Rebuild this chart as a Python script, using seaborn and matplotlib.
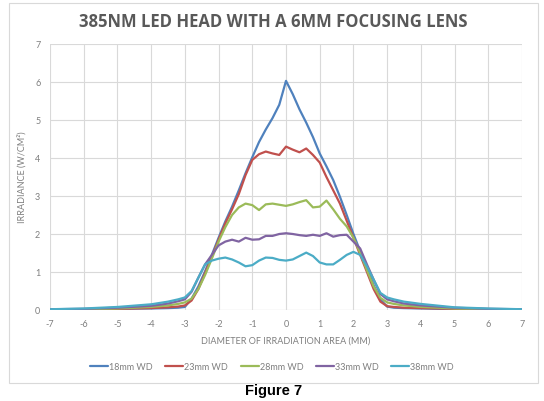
import numpy as np
import pandas as pd
import matplotlib
matplotlib.use("Agg")
import matplotlib.pyplot as plt
from matplotlib.patches import Rectangle
import seaborn as sns

# ---- data ----
positions = [-7, -6, -5, -4, -3.5, -3.2, -3.0,
             -2.8, -2.6, -2.4, -2.2, -2.0, -1.8, -1.6, -1.4, -1.2, -1.0,
             -0.8, -0.6, -0.4, -0.2, 0.0, 0.2, 0.4, 0.6, 0.8, 1.0,
             1.2, 1.4, 1.6, 1.8, 2.0, 2.2, 2.4, 2.6, 2.8,
             3.0, 3.2, 3.5, 4, 5, 6, 7]

wd18 = [0.01, 0.02, 0.03, 0.04, 0.05, 0.06, 0.08,
        0.30, 0.62, 1.02, 1.45, 1.90, 2.33, 2.72, 3.15, 3.60, 4.02,
        4.42, 4.75, 5.05, 5.40, 6.03, 5.68, 5.28, 4.93, 4.55, 4.12,
        3.78, 3.42, 2.98, 2.50, 2.00, 1.55, 1.10, 0.65, 0.28,
        0.09, 0.06, 0.05, 0.04, 0.02, 0.01, 0.01]
wd23 = [0.01, 0.02, 0.03, 0.05, 0.07, 0.09, 0.12,
        0.25, 0.55, 0.97, 1.40, 1.85, 2.28, 2.65, 3.05, 3.55, 3.95,
        4.10, 4.17, 4.12, 4.08, 4.30, 4.22, 4.15, 4.25, 4.08, 3.88,
        3.50, 3.15, 2.80, 2.35, 1.90, 1.45, 1.00, 0.55, 0.22,
        0.10, 0.08, 0.06, 0.05, 0.03, 0.02, 0.01]
wd28 = [0.01, 0.02, 0.04, 0.08, 0.12, 0.16, 0.20,
        0.30, 0.55, 0.92, 1.35, 1.80, 2.18, 2.50, 2.70, 2.80, 2.76,
        2.63, 2.78, 2.80, 2.77, 2.74, 2.78, 2.84, 2.89, 2.70, 2.72,
        2.88, 2.65, 2.40, 2.20, 1.90, 1.50, 1.05, 0.62, 0.32,
        0.20, 0.16, 0.12, 0.08, 0.04, 0.02, 0.01]
wd33 = [0.02, 0.03, 0.06, 0.11, 0.17, 0.23, 0.28,
        0.48, 0.85, 1.20, 1.45, 1.70, 1.80, 1.85, 1.80, 1.90, 1.85,
        1.86, 1.95, 1.95, 2.00, 2.02, 2.00, 1.97, 1.95, 1.98, 1.95,
        2.02, 1.93, 1.97, 1.98, 1.80, 1.62, 1.20, 0.80, 0.42,
        0.28, 0.23, 0.17, 0.12, 0.06, 0.03, 0.02]
wd38 = [0.02, 0.04, 0.08, 0.15, 0.22, 0.28, 0.33,
        0.50, 0.85, 1.20, 1.30, 1.35, 1.38, 1.33, 1.25, 1.15, 1.18,
        1.30, 1.38, 1.37, 1.32, 1.30, 1.33, 1.42, 1.51, 1.42, 1.25,
        1.20, 1.20, 1.32, 1.45, 1.53, 1.45, 1.15, 0.80, 0.45,
        0.33, 0.28, 0.22, 0.16, 0.07, 0.04, 0.02]

series_names = ["18mm WD", "23mm WD", "28mm WD", "33mm WD", "38mm WD"]
series_values = [wd18, wd23, wd28, wd33, wd38]
colors = ["#4F81BD", "#C0504D", "#9BBB59", "#8064A2", "#4BACC6"]

df = pd.concat([pd.DataFrame({"x": positions, "y": v, "series": n})
                for n, v in zip(series_names, series_values)], ignore_index=True)

# ---- plot ----
sns.set_style("white")
plt.rcParams["font.family"] = ["Lato", "DejaVu Sans"]
plt.rcParams["axes.unicode_minus"] = False

fig = plt.figure(figsize=(5.44, 4.01), dpi=100)
ax = fig.add_axes([50 / 544, 1 - 310 / 401, 472 / 544, 266 / 401])

sns.lineplot(data=df, x="x", y="y", hue="series", palette=colors,
             hue_order=series_names, estimator=None, linewidth=1.6,
             ax=ax, legend=False)
for ln in ax.lines:
    ln.set_solid_joinstyle("round")

ax.set_xlim(-7, 7)
ax.set_ylim(0, 7)
ax.set_xticks(range(-7, 8))
ax.set_yticks(range(0, 8))
ax.grid(True, color="#d9d9d9", linewidth=0.8)
ax.set_axisbelow(True)
for s in ax.spines.values():
    s.set_visible(False)
ax.axhline(0, color="#bfbfbf", linewidth=0.8, zorder=0)
ax.tick_params(axis="both", length=0, labelsize=6.5, labelcolor="#7f7f7f", pad=7)
ax.set_xlabel("DIAMETER OF IRRADIATION AREA (MM)", fontsize=6.5, color="#7f7f7f", labelpad=6)
ax.set_ylabel("IRRADIANCE (W/CM²)", fontsize=6.5, color="#7f7f7f", labelpad=6)

fig.text(273 / 544, 1 - 22 / 401, "385NM LED HEAD WITH A 6MM FOCUSING LENS",
         ha="center", va="center", fontsize=12, fontweight="bold",
         family=["Open Sans", "DejaVu Sans"], color="#595959")

handles = [plt.Line2D([], [], color=c, linewidth=1.6) for c in colors]
fig.legend(handles, series_names, loc="center", bbox_to_anchor=(0.5, 1 - 367 / 401),
           ncol=5, frameon=False, fontsize=6.5, handlelength=2.0, columnspacing=1.4,
           handletextpad=0.1, labelcolor="#7f7f7f")

fig.patches.append(Rectangle((9 / 544, 1 - 383 / 401), 529 / 544, 380 / 401,
                             transform=fig.transFigure, fill=False,
                             edgecolor="#d9d9d9", linewidth=0.8))

fig.text(274 / 544, 1 - 391 / 401, "Figure 7", ha="center", va="center",
         fontsize=10.5, fontweight="bold", family="Liberation Sans", color="black")

fig.savefig("out.png", dpi=100)
